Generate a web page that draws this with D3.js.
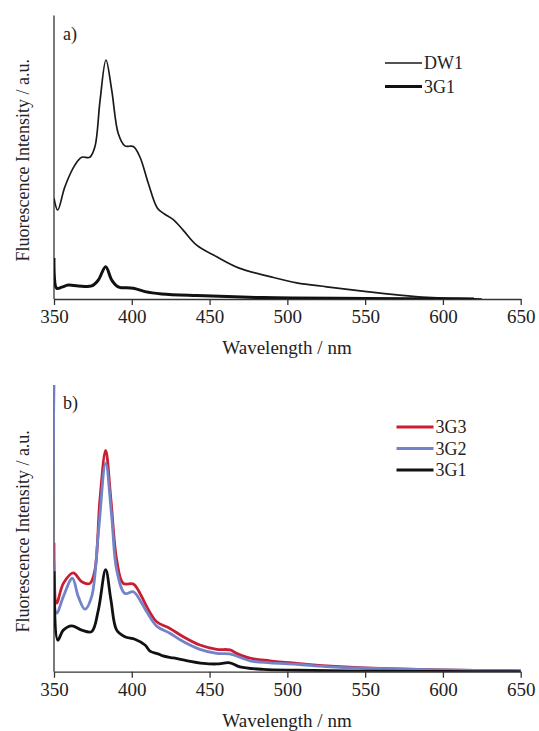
<!DOCTYPE html>
<html>
<head>
<meta charset="utf-8">
<script src="https://cdn.jsdelivr.net/npm/d3@7"></script>
<style>
  body { margin: 0; background: #fff; }
  svg text { font-family: "Liberation Serif", "Times New Roman", Times, serif !important; fill: #222; }
</style>
</head>
<body>
<div id="chart"></div>
<script>
// wavelength ticks
var xTicks = [350, 400, 450, 500, 550, 600, 650];

// panel a) DW1
var dw1Wl  = [350, 352.4, 357, 363.5, 367.8, 373, 376.3, 379.6, 383.4, 387.1, 391.3, 395.6, 401, 405.3, 410.5, 416.5, 421, 426.7, 433, 441.7, 454.6, 469.5, 488.8, 506, 525.3, 551, 572, 590, 610, 625];
var dw1Int = [0.355, 0.314, 0.396, 0.473, 0.50, 0.50, 0.537, 0.70, 0.843, 0.737, 0.584, 0.54, 0.538, 0.50, 0.41, 0.32, 0.30, 0.28, 0.243, 0.19, 0.149, 0.108, 0.079, 0.057, 0.043, 0.026, 0.014, 0.006, 0.002, 0];

// panel a) 3G1
var g1aWl  = [350, 351.7, 355, 359.2, 365.6, 374.2, 378.5, 383.2, 387.1, 391.3, 401, 408.5, 419.2, 441.7, 484.5, 550, 620];
var g1aInt = [0.145, 0.038, 0.042, 0.049, 0.046, 0.046, 0.067, 0.114, 0.067, 0.043, 0.038, 0.026, 0.018, 0.012, 0.005, 0.002, 0];

// panel b) 3G3
var g3Wl  = [350, 351.7, 356, 362.4, 367.8, 373.1, 376.3, 379.5, 383.2, 386.6, 390.3, 394.5, 401, 405.3, 409.6, 416, 424.5, 433.1, 443.8, 454.6, 463.1, 467.4, 476, 488.8, 506, 525.3, 550, 600, 650];
var g3Int = [0.45, 0.239, 0.308, 0.345, 0.314, 0.308, 0.355, 0.599, 0.772, 0.599, 0.39, 0.308, 0.306, 0.273, 0.227, 0.174, 0.151, 0.122, 0.093, 0.078, 0.076, 0.064, 0.047, 0.038, 0.029, 0.020, 0.013, 0.006, 0.003];

// panel b) 3G2
var g2Wl  = [350, 351.7, 356, 361.8, 365.6, 369.9, 374.2, 378.5, 383.2, 387.1, 390.3, 395.6, 401, 406.4, 409.6, 416, 424.5, 433, 443.8, 454.6, 463, 476, 488.8, 506, 525, 550, 600, 650];
var g2Int = [1.0, 0.204, 0.262, 0.326, 0.262, 0.218, 0.262, 0.483, 0.727, 0.541, 0.355, 0.273, 0.279, 0.239, 0.209, 0.159, 0.134, 0.105, 0.078, 0.064, 0.062, 0.038, 0.031, 0.026, 0.018, 0.012, 0.006, 0.003];

// panel b) 3G1
var g1bWl  = [350, 352.4, 356, 361.4, 367.8, 374.2, 378.5, 383.2, 386.6, 390.3, 395.6, 402, 408.5, 411.7, 417, 420, 426.7, 433, 446, 454.6, 463, 469.5, 484.5, 506, 550, 600, 650];
var g1bInt = [0.35, 0.11, 0.145, 0.16, 0.145, 0.14, 0.215, 0.356, 0.25, 0.145, 0.122, 0.113, 0.093, 0.072, 0.062, 0.055, 0.048, 0.041, 0.029, 0.027, 0.031, 0.017, 0.008, 0.005, 0.002, 0.001, 0];

var panels = [
  { label: 'a)', top: 15.5, bottom: 299,
    series: [
      { name: 'DW1', wl: dw1Wl, val: dw1Int, color: '#1a1a1a', width: 1.7 },
      { name: '3G1', wl: g1aWl, val: g1aInt, color: '#111', width: 3 }
    ],
    legendX: 385, legendY: 63, legendStep: 23.5 },
  { label: 'b)', top: 385, bottom: 671.7,
    series: [
      { name: '3G3', wl: g3Wl, val: g3Int, color: '#c81e32', width: 2.8 },
      { name: '3G2', wl: g2Wl, val: g2Int, color: '#7283c8', width: 2.8 },
      { name: '3G1', wl: g1bWl, val: g1bInt, color: '#111', width: 2.8 }
    ],
    legendX: 396.5, legendY: 427, legendStep: 21.5 }
];

var width = 539, height = 731;
var svg = d3.select('#chart').append('svg')
  .attr('width', width)
  .attr('height', height)
  .attr('font-family', '"Liberation Serif", "Times New Roman", serif');

var x = d3.scaleLinear().domain([350, 650]).range([54, 520.7]);

panels.forEach(function(p, i) {
  var y = d3.scaleLinear().domain([0, 1]).range([p.bottom, p.top]);
  var g = svg.append('g');

  g.append('clipPath').attr('id', 'clip' + i)
    .append('rect')
    .attr('x', x(350)).attr('y', p.top)
    .attr('width', x(650) - x(350) + 2).attr('height', p.bottom - p.top);

  // y axis (no ticks)
  g.append('line')
    .attr('x1', x(350)).attr('x2', x(350))
    .attr('y1', y(1)).attr('y2', y(0))
    .attr('stroke', '#333').attr('stroke-width', 1.3);

  var xAxis = d3.axisBottom(x).tickValues(xTicks).tickSize(6).tickPadding(5).tickSizeOuter(0);
  var ax = g.append('g')
    .attr('transform', 'translate(0,' + p.bottom + ')')
    .call(xAxis);
  ax.attr('font-family', null);
  ax.select('.domain').attr('stroke', '#333').attr('stroke-width', 1.3);
  ax.selectAll('.tick line').attr('stroke', '#333').attr('stroke-width', 1.3);
  ax.selectAll('.tick text')
    .style('font-size', '19px')
    .attr('fill', '#222');

  var line = d3.line()
    .x(d => x(d[0]))
    .y(d => y(d[1]))
    .curve(d3.curveCatmullRom.alpha(0.5));

  p.series.forEach(function(s) {
    var pts = s.wl.map((w, k) => [w, s.val[k]]);
    g.append('path')
      .datum(pts)
      .attr('clip-path', 'url(#clip' + i + ')')
      .attr('fill', 'none')
      .attr('stroke', s.color)
      .attr('stroke-width', s.width)
      .attr('stroke-linejoin', 'round')
      .attr('d', line);
  });

  g.append('text')
    .attr('x', 287).attr('y', p.bottom + 55)
    .attr('text-anchor', 'middle')
    .style('font-size', '19px')
    .text('Wavelength / nm');

  g.append('text')
    .attr('transform', 'translate(29,' + ((p.top + p.bottom) / 2 + 3) + ') rotate(-90)')
    .attr('text-anchor', 'middle')
    .style('font-size', '18px')
    .text('Fluorescence Intensity / a.u.');

  g.append('text')
    .attr('x', 63).attr('y', p.top + 24)
    .style('font-size', '18px')
    .text(p.label);

  p.series.forEach(function(s, k) {
    var ly = p.legendY + k * p.legendStep;
    g.append('line')
      .attr('x1', p.legendX).attr('x2', p.legendX + 37)
      .attr('y1', ly).attr('y2', ly)
      .attr('stroke', s.color).attr('stroke-width', s.width);
    g.append('text')
      .attr('x', p.legendX + 39).attr('y', ly + 6)
      .style('font-size', '18px')
      .text(s.name);
  });
});
</script>
</body>
</html>
